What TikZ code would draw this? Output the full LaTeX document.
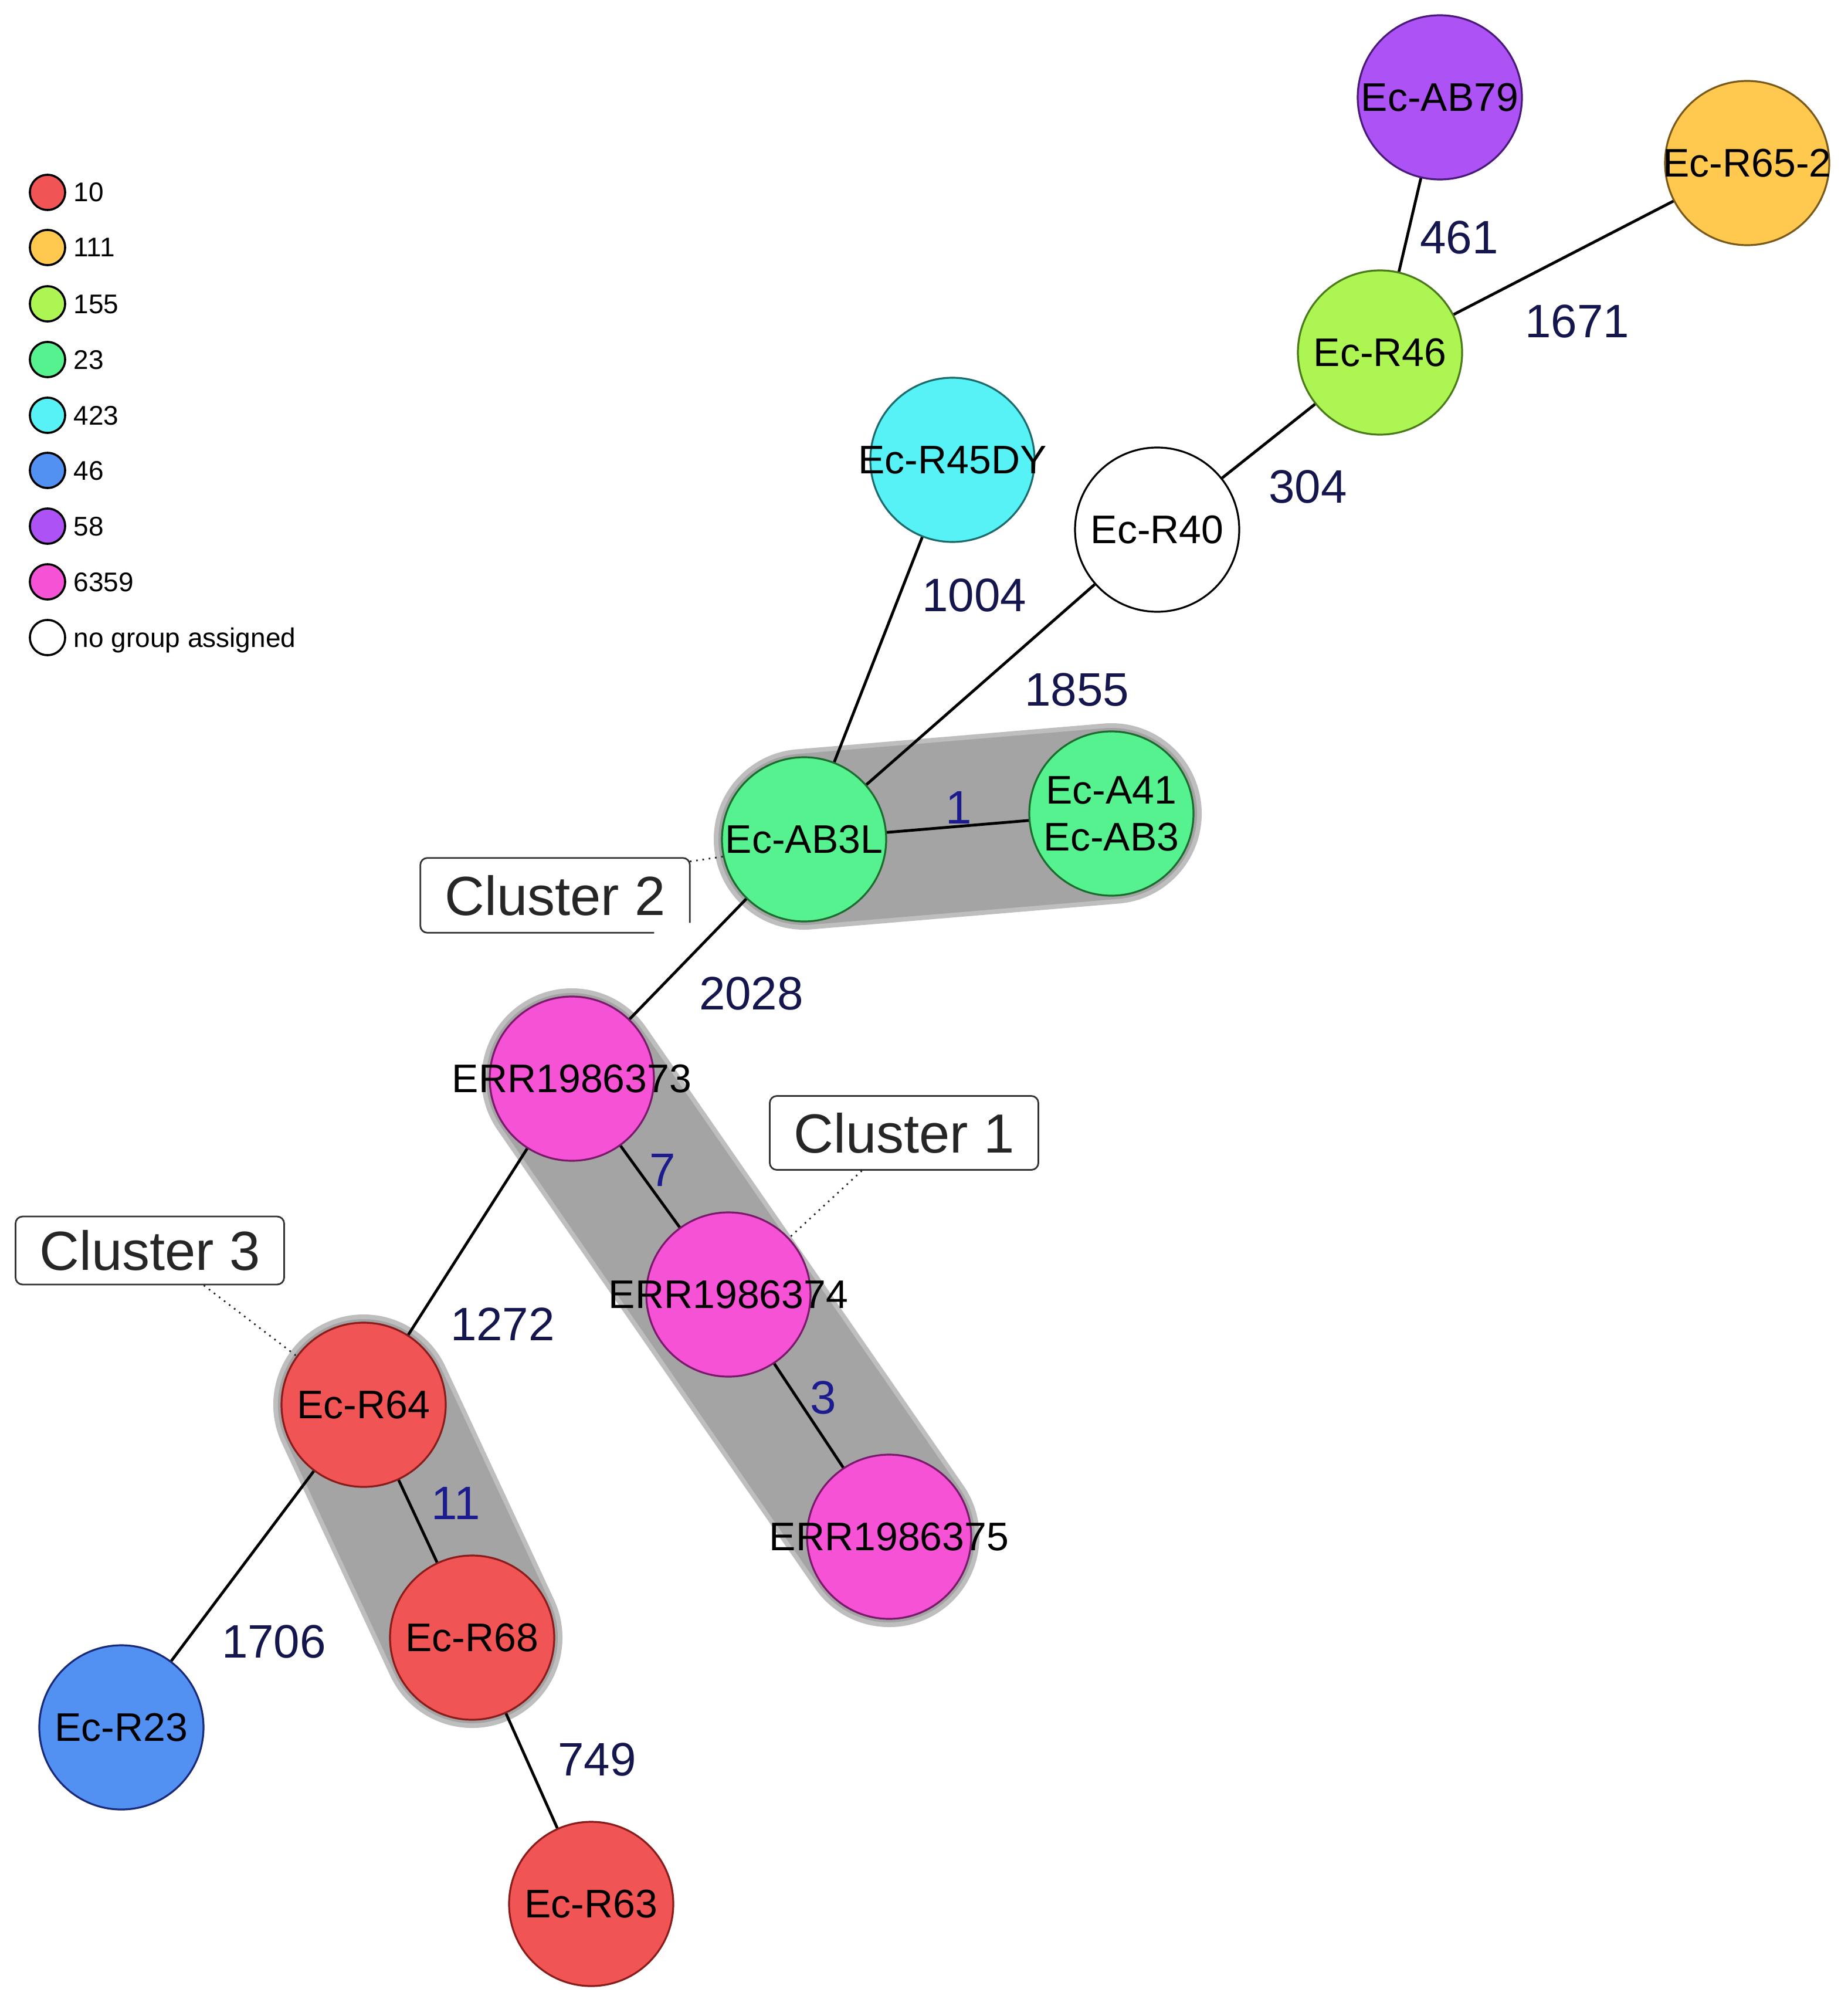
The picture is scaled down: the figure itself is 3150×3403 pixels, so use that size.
\documentclass[tikz,border=0pt]{standalone}
\usepackage{fontspec}
\setmainfont{Liberation Sans}
\usetikzlibrary{backgrounds}
\definecolor{cRed}{HTML}{F05454}\definecolor{sRed}{HTML}{8A1C1C}
\definecolor{cYel}{HTML}{FFC94F}\definecolor{sYel}{HTML}{7A5A1A}
\definecolor{cLime}{HTML}{ADF552}\definecolor{sLime}{HTML}{4A7A1A}
\definecolor{cGreen}{HTML}{55F28F}\definecolor{sGreen}{HTML}{1E6B30}
\definecolor{cCyan}{HTML}{56F2F5}\definecolor{sCyan}{HTML}{1F6B6B}
\definecolor{cBlue}{HTML}{5290F2}\definecolor{sBlue}{HTML}{1A2A7A}
\definecolor{cPurp}{HTML}{AD52F5}\definecolor{sPurp}{HTML}{4A1A7A}
\definecolor{cPink}{HTML}{F552D6}\definecolor{sPink}{HTML}{7A1A6A}
\definecolor{navy}{HTML}{16164E}
\definecolor{blu}{HTML}{1C1C8E}
\definecolor{hullF}{HTML}{A4A4A4}
\definecolor{hullB}{HTML}{BEBEBE}
\tikzset{
  gnode/.style={circle, minimum size=70pt, inner sep=0pt, line width=0.8pt},
  nlab/.style={font=\fontsize{17}{20}\selectfont, inner sep=0pt, align=center, text=black},
  elab/.style={font=\fontsize{20}{24}\selectfont, inner sep=0pt, text=navy},
  ilab/.style={font=\fontsize{20}{24}\selectfont, inner sep=0pt, text=blu},
  edge/.style={draw=black, line width=1.2pt},
  hullout/.style={line width=77pt, line cap=round, draw=hullB},
  hullin/.style={line width=73pt, line cap=round, draw=hullF},
  cbox/.style={font=\fontsize{23.5}{28}\selectfont, text=black!85, inner sep=0pt, minimum width=114.5pt, minimum height=31.5pt},
  boxline/.style={draw=black!80, line width=0.7pt, rounded corners=3pt},
  leader/.style={draw=black!85, line width=0.7pt, dotted},
  legc/.style={circle, minimum size=15pt, inner sep=0pt, draw=black, line width=0.9pt},
  legt/.style={font=\fontsize{11.5}{14}\selectfont, inner sep=0pt, anchor=base west}
}
\begin{document}
\begin{tikzpicture}[x=0.25pt, y=-0.25pt]
\useasboundingbox (0,0) rectangle (3150,3403);
% legend
\node[legc, fill=cRed] (lg1) at (81,328) {};
\node[legt] (lt1) at (125,344) {10};
\node[legc, fill=cYel] (lg2) at (81,422) {};
\node[legt] (lt2) at (125,438) {111};
\node[legc, fill=cLime] (lg3) at (81,518) {};
\node[legt] (lt3) at (125,534) {155};
\node[legc, fill=cGreen] (lg4) at (81,613) {};
\node[legt] (lt4) at (125,629) {23};
\node[legc, fill=cCyan] (lg5) at (81,708) {};
\node[legt] (lt5) at (125,724) {423};
\node[legc, fill=cBlue] (lg6) at (81,802) {};
\node[legt] (lt6) at (125,818) {46};
\node[legc, fill=cPurp] (lg7) at (81,897) {};
\node[legt] (lt7) at (125,913) {58};
\node[legc, fill=cPink] (lg8) at (81,992) {};
\node[legt] (lt8) at (125,1008) {6359};
\node[legc, fill=white] (lg9) at (81,1087) {};
\node[legt] (lt9) at (125,1103) {no group assigned};

% graph nodes
\node[gnode, fill=cPurp, draw=sPurp, label={[nlab]center:Ec-AB79}] (ab79) at (2455,166) {};
\node[gnode, fill=cYel, draw=sYel, label={[nlab]center:Ec-R65-2}] (r652) at (2979,278) {};
\node[gnode, fill=cLime, draw=sLime, label={[nlab]center:Ec-R46}] (r46) at (2353,601) {};
\node[gnode, fill=white, draw=black, label={[nlab]center:Ec-R40}] (r40) at (1973,903) {};
\node[gnode, fill=cCyan, draw=sCyan, label={[nlab]center:Ec-R45DY}] (r45) at (1624,784) {};
\node[gnode, fill=cGreen, draw=sGreen, label={[nlab]center:Ec-AB3L}] (ab3l) at (1371,1431) {};
\node[gnode, fill=cGreen, draw=sGreen, label={[nlab]center:{Ec-A41\\Ec-AB3}}] (a41) at (1895,1387) {};
\node[gnode, fill=cPink, draw=sPink, label={[nlab]center:ERR1986373}] (e373) at (975,1839) {};
\node[gnode, fill=cPink, draw=sPink, label={[nlab]center:ERR1986374}] (e374) at (1242,2207) {};
\node[gnode, fill=cPink, draw=sPink, label={[nlab]center:ERR1986375}] (e375) at (1516,2620) {};
\node[gnode, fill=cRed, draw=sRed, label={[nlab]center:Ec-R64}] (r64) at (620,2395) {};
\node[gnode, fill=cRed, draw=sRed, label={[nlab]center:Ec-R68}] (r68) at (805,2792) {};
\node[gnode, fill=cBlue, draw=sBlue, label={[nlab]center:Ec-R23}] (r23) at (207,2945) {};
\node[gnode, fill=cRed, draw=sRed, label={[nlab]center:Ec-R63}] (r63) at (1008,3246) {};

% hulls
\begin{pgfonlayer}{background}
\draw[hullout] (ab3l.center) -- (a41.center);
\draw[hullin] (ab3l.center) -- (a41.center);
\draw[hullout] (e373.center) -- (e375.center);
\draw[hullin] (e373.center) -- (e375.center);
\draw[hullout] (r64.center) -- (r68.center);
\draw[hullin] (r64.center) -- (r68.center);
\end{pgfonlayer}

% edges
\draw[edge] (ab79) -- (r46);
\draw[edge] (r652) -- (r46);
\draw[edge] (r46) -- (r40);
\draw[edge] (r40) -- (ab3l);
\draw[edge] (r45) -- (ab3l);
\draw[edge] (ab3l) -- (a41);
\draw[edge] (ab3l) -- (e373);
\draw[edge] (e373) -- (e374);
\draw[edge] (e374) -- (e375);
\draw[edge] (e373) -- (r64);
\draw[edge] (r64) -- (r68);
\draw[edge] (r64) -- (r23);
\draw[edge] (r68) -- (r63);

% edge labels
\node[elab] (l461) at (2488,405) {461};
\node[elab] (l1671) at (2689,548) {1671};
\node[elab] (l304) at (2230,830) {304};
\node[elab] (l1004) at (1661,1015) {1004};
\node[elab] (l1855) at (1836,1176) {1855};
\node[ilab] (l1) at (1635,1377) {1};
\node[elab] (l2028) at (1281,1694) {2028};
\node[ilab] (l7) at (1130,1995) {7};
\node[ilab] (l3) at (1404,2383) {3};
\node[elab] (l1272) at (857,2258) {1272};
\node[ilab] (l11) at (777,2563) {11};
\node[elab] (l1706) at (467,2799) {1706};
\node[elab] (l749) at (1018,3000) {749};

% cluster boxes
\node[cbox, draw=black!80, line width=0.7pt, rounded corners=3pt] (c1) at (1541.5,1931.5) {Cluster 1};
\node[cbox] (c2) at (946.5,1526.5) {Cluster 2};
\draw[boxline] ([xshift=-15.25pt]c2.south east) -- (c2.south west) -- (c2.north west) -- (c2.north east) -- ([yshift=4.25pt]c2.south east);
\node[cbox, draw=black!80, line width=0.7pt, rounded corners=3pt, minimum height=29pt] (c3) at (255.5,2132) {Cluster 3};

% leaders
\draw[leader] ([xshift=-18pt]c1.south) -- (e374.43);
\draw[leader] ([yshift=-1.5pt]c2.north east) -- (ab3l.192);
\draw[leader] ([xshift=23pt]c3.south) -- (r64.144);
\end{tikzpicture}
\end{document}
